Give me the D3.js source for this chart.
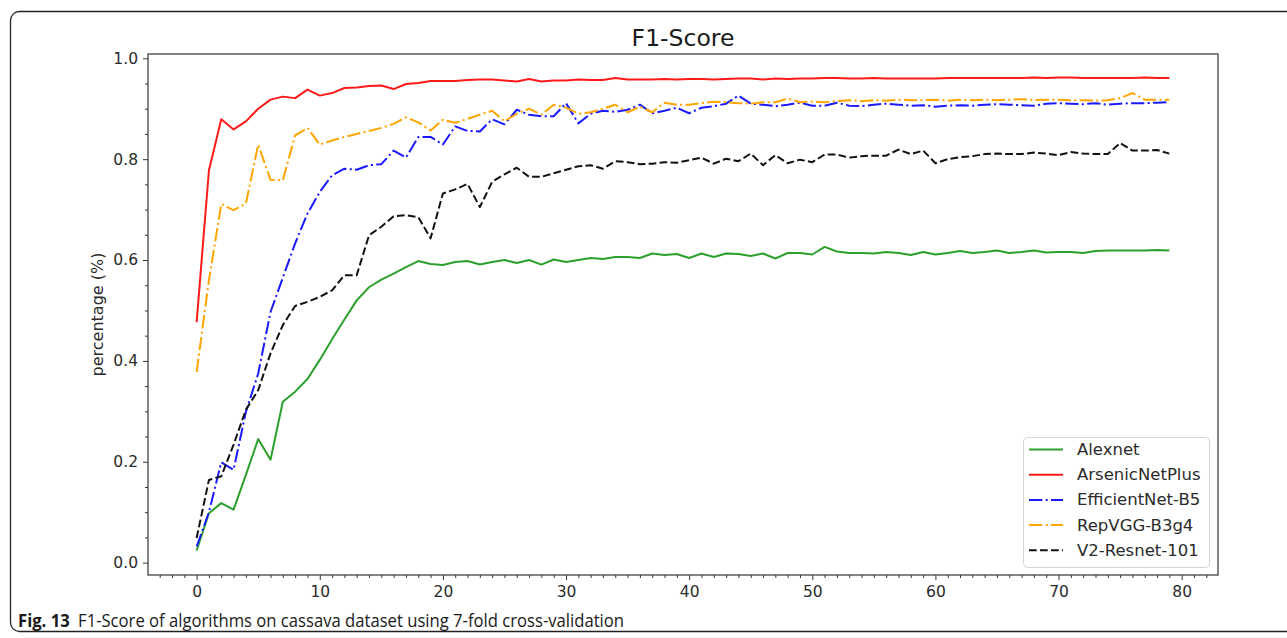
<!DOCTYPE html>
<html><head><meta charset="utf-8">
<script src="https://cdn.jsdelivr.net/npm/d3@7"></script>
<style>
html,body{margin:0;padding:0;background:#fff;}
svg{display:block;}
</style></head>
<body>
<svg id="chart" width="1287" height="638"></svg>
<script>
const epochs = d3.range(0, 80);
const seriesNames = ["Alexnet","ArsenicNetPlus","EfficientNet-B5","RepVGG-B3g4","V2-Resnet-101"];
const alexnet = [0.024,0.098,0.118,0.105,0.174,0.245,0.204,0.319,0.339,0.364,0.402,0.443,0.482,0.520,0.546,0.561,0.573,0.586,0.598,0.592,
0.590,0.596,0.598,0.591,0.596,0.600,0.594,0.600,0.591,0.601,0.596,0.600,0.604,0.602,0.606,0.606,0.604,0.613,0.610,0.612,
0.604,0.613,0.606,0.613,0.612,0.608,0.613,0.603,0.614,0.614,0.611,0.626,0.617,0.614,0.614,0.613,0.616,0.614,0.610,0.616,
0.611,0.614,0.618,0.614,0.616,0.619,0.614,0.616,0.619,0.615,0.616,0.616,0.614,0.618,0.619,0.619,0.619,0.619,0.620,0.619];
const arsenic = [0.477,0.778,0.879,0.859,0.875,0.900,0.918,0.924,0.921,0.938,0.926,0.931,0.941,0.942,0.945,0.946,0.939,0.949,0.951,0.955,
0.955,0.955,0.957,0.958,0.958,0.956,0.954,0.959,0.954,0.956,0.956,0.958,0.957,0.957,0.961,0.958,0.958,0.958,0.959,0.958,
0.959,0.959,0.958,0.959,0.960,0.960,0.958,0.960,0.959,0.960,0.960,0.961,0.961,0.960,0.960,0.961,0.960,0.960,0.960,0.960,
0.960,0.961,0.961,0.961,0.961,0.961,0.961,0.961,0.962,0.961,0.962,0.962,0.961,0.961,0.961,0.961,0.961,0.962,0.961,0.961];
const efficient = [0.032,0.100,0.199,0.184,0.299,0.375,0.497,0.565,0.633,0.692,0.735,0.768,0.781,0.779,0.788,0.790,0.817,0.803,0.844,0.844,
0.829,0.865,0.856,0.855,0.879,0.869,0.898,0.888,0.885,0.885,0.911,0.871,0.890,0.896,0.894,0.898,0.908,0.891,0.896,0.902,
0.891,0.902,0.905,0.910,0.926,0.910,0.908,0.905,0.908,0.912,0.906,0.906,0.912,0.906,0.905,0.908,0.910,0.908,0.906,0.907,
0.904,0.906,0.907,0.906,0.908,0.909,0.908,0.907,0.906,0.910,0.911,0.910,0.909,0.911,0.908,0.910,0.911,0.911,0.912,0.913];
const repvgg = [0.378,0.560,0.711,0.699,0.712,0.829,0.759,0.758,0.847,0.862,0.829,0.837,0.844,0.850,0.856,0.862,0.870,0.883,0.873,0.857,
0.878,0.872,0.880,0.888,0.896,0.875,0.890,0.900,0.888,0.908,0.902,0.890,0.893,0.900,0.908,0.893,0.904,0.893,0.912,0.908,
0.908,0.911,0.914,0.913,0.911,0.910,0.913,0.913,0.920,0.913,0.914,0.913,0.915,0.917,0.915,0.917,0.916,0.918,0.917,0.917,
0.918,0.916,0.918,0.917,0.918,0.917,0.918,0.919,0.917,0.918,0.918,0.917,0.917,0.916,0.917,0.921,0.931,0.918,0.918,0.918];
const resnet = [0.049,0.164,0.171,0.234,0.303,0.342,0.415,0.471,0.509,0.517,0.527,0.540,0.570,0.570,0.649,0.666,0.687,0.689,0.685,0.643,
0.732,0.740,0.751,0.705,0.755,0.770,0.783,0.765,0.765,0.772,0.779,0.786,0.788,0.781,0.796,0.794,0.790,0.791,0.794,0.793,
0.798,0.803,0.791,0.801,0.796,0.811,0.788,0.808,0.792,0.799,0.794,0.809,0.809,0.803,0.806,0.807,0.807,0.819,0.810,0.817,
0.792,0.800,0.804,0.806,0.810,0.811,0.810,0.810,0.813,0.811,0.808,0.814,0.811,0.810,0.810,0.832,0.817,0.817,0.818,0.811];
const xTickValues = [0,10,20,30,40,50,60,70,80];
const yTickValues = [0.0,0.2,0.4,0.6,0.8,1.0];
const titleText = "F1-Score";
const yLabelText = "percentage (%)";
const captionBold = "Fig. 13";
const captionText = "F1-Score of algorithms on cassava dataset using 7-fold cross-validation";

const seriesData = [alexnet, arsenic, efficient, repvgg, resnet];
const colors = ["#2ca02c","#ff1a1a","#1a1aff","#ffa500","#111111"];
const dashes = [null, null, "13.3,3.3,2.1,3.3", "13.3,3.3,2.1,3.3", "7.7,3.3"];

const svg = d3.select("#chart");
const L = 148, R = 1218, T = 54, B = 575;
const x = d3.scaleLinear().domain([-3.95, 82.95]).range([L, R]);
const y = d3.scaleLinear().domain([-0.0245, 1.0085]).range([B, T]);

// figure border
svg.append("rect").attr("x", 10.5).attr("y", 11.5).attr("width", 1300).attr("height", 620)
  .attr("rx", 9).attr("fill", "none").attr("stroke", "#222").attr("stroke-width", 1.3);

const g = svg.append("g");
const axisColor = "#333";
const tickFont = "DejaVu Sans, sans-serif";

// x axis
const xAxis = g.append("g").attr("transform", `translate(0,${B})`)
  .call(d3.axisBottom(x).tickValues(xTickValues).tickFormat(d3.format("d")).tickSize(5).tickPadding(4));
const xMinor = g.append("g").attr("transform", `translate(0,${B})`)
  .call(d3.axisBottom(x).tickValues(d3.range(-3, 83).filter(v => v % 10 !== 0)).tickFormat("").tickSize(3));
// y axis
const yAxis = g.append("g").attr("transform", `translate(${L},0)`)
  .call(d3.axisLeft(y).tickValues(yTickValues).tickFormat(d3.format(".1f")).tickSize(5).tickPadding(5));
const yMinor = g.append("g").attr("transform", `translate(${L},0)`)
  .call(d3.axisLeft(y).tickValues(d3.range(0, 21).map(i => i * 0.05).filter((v, i) => i % 4 !== 0)).tickFormat("").tickSize(3));

[xAxis, xMinor, yAxis, yMinor].forEach(a => {
  a.select(".domain").remove();
  a.selectAll("line").attr("stroke", axisColor).attr("stroke-width", 1);
  a.selectAll("text").attr("fill", "#2b2b2b").style("font-family", tickFont).style("font-size", "15.5px");
});
xAxis.selectAll("text").attr("dy", "0.85em");

// frame
g.append("rect").attr("x", L).attr("y", T).attr("width", R - L).attr("height", B - T)
  .attr("fill", "none").attr("stroke", "#444").attr("stroke-width", 1.3);

// lines
const clipId = "plotclip";
svg.append("clipPath").attr("id", clipId).append("rect").attr("x", L).attr("y", T).attr("width", R - L).attr("height", B - T);
const line = d3.line().x((d, i) => x(epochs[i])).y(d => y(d));
seriesData.forEach((s, k) => {
  g.append("path").datum(s).attr("d", line).attr("fill", "none")
    .attr("stroke", colors[k]).attr("stroke-width", 2)
    .attr("stroke-dasharray", dashes[k]).attr("stroke-linejoin", "round")
    .attr("clip-path", `url(#${clipId})`);
});

// title
svg.append("text").attr("x", (L + R) / 2).attr("y", 45.5).attr("text-anchor", "middle")
  .style("font-family", tickFont).style("font-size", "23.5px").attr("fill", "#1a1a1a").text(titleText);

// y label
svg.append("text").attr("transform", `translate(97,${(T + B) / 2}) rotate(-90)`)
  .attr("text-anchor", "middle").attr("dominant-baseline", "central")
  .style("font-family", tickFont).style("font-size", "16px").attr("fill", "#2b2b2b").text(yLabelText);

// legend
const lg = svg.append("g");
lg.append("rect").attr("x", 1023.5).attr("y", 437.5).attr("width", 186).attr("height", 130)
  .attr("rx", 4).attr("fill", "#fff").attr("fill-opacity", 0.85).attr("stroke", "#d4d4d4");
seriesNames.forEach((n, k) => {
  const yy = 449.5 + k * 25.2;
  lg.append("line").attr("x1", 1029).attr("x2", 1063).attr("y1", yy).attr("y2", yy)
    .attr("stroke", colors[k]).attr("stroke-width", 2).attr("stroke-dasharray", dashes[k]);
  lg.append("text").attr("x", 1077).attr("y", yy).attr("dominant-baseline", "central")
    .style("font-family", tickFont).style("font-size", "16.5px").attr("fill", "#2b2b2b").text(n);
});

// caption
const cap = svg.append("text").attr("x", 18).attr("y", 627)
  .style("font-family", "'Open Sans', sans-serif").style("font-size", "17.5px").attr("fill", "#1a1a1a")
  .attr("textLength", 606).attr("lengthAdjust", "spacingAndGlyphs");
cap.append("tspan").style("font-weight", "bold").text(captionBold);
cap.append("tspan").text("\u2002" + captionText);
</script>
</body></html>
